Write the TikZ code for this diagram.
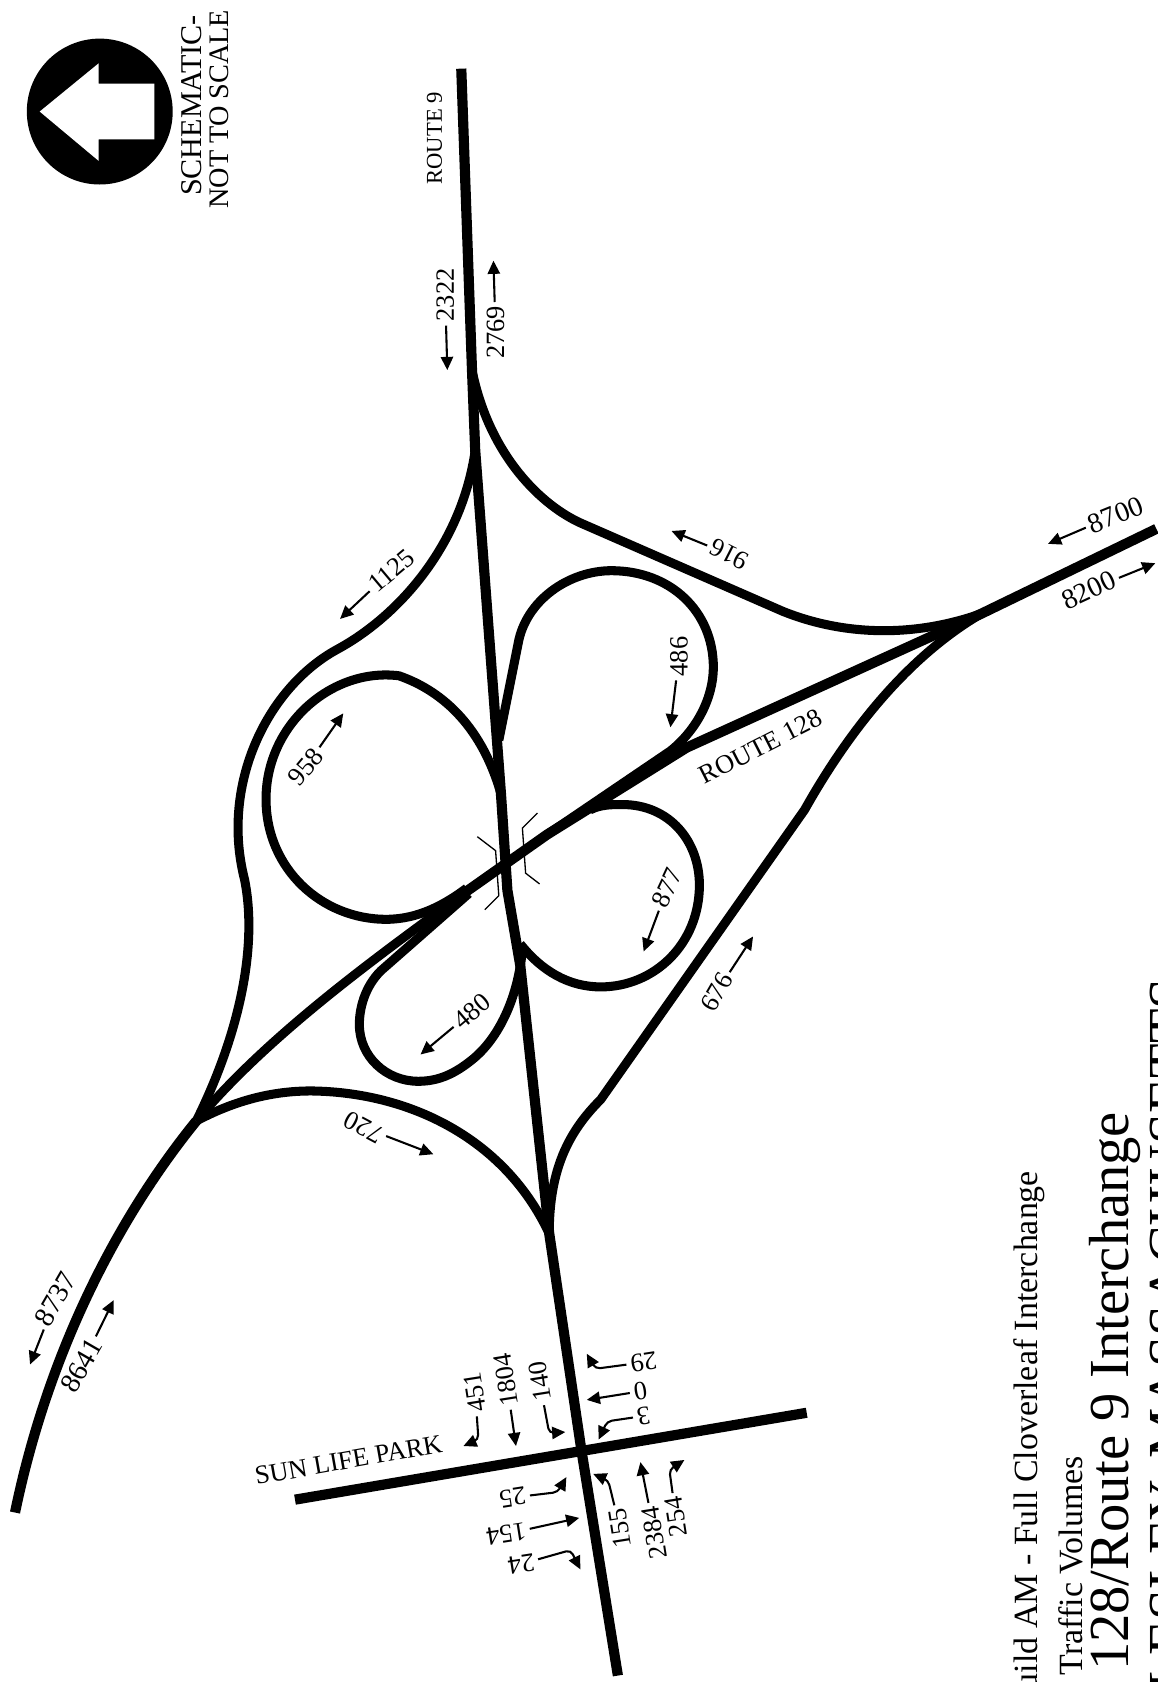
\documentclass[tikz,border=0pt]{standalone}
\usepackage{fontspec}
\setmainfont{Liberation Serif}
\usepackage{tikz}
\usetikzlibrary{arrows.meta}

\begin{document}
\begin{tikzpicture}[
    x=0.02cm, y=-0.02cm,
    road/.style={line width=5.4pt},
    ramp/.style={line width=4.8pt, line join=round},
    bridge/.style={line width=0.7pt},
    lbl/.style={inner sep=1pt, font=\fontsize{14}{14}\selectfont},
    biglbl/.style={inner sep=1pt, font=\fontsize{15}{15}\selectfont},
    arr/.style={-{Triangle[length=7pt, width=6.5pt]}, line width=1.1pt, rounded corners=2.5pt, shorten <=1pt}
]
\useasboundingbox (0,0) rectangle (1079,1568);

% Compass
\fill (93,104) circle (68);
\fill[white] (37,104) -- (92,59) -- (92,78) -- (144,78) -- (144,130) -- (92,130) -- (92,150) -- cycle;
\node[rotate=90, anchor=base west, inner sep=0pt, font=\fontsize{16}{16}\selectfont] (schem) at (188,183) {SCHEMATIC-};
\node[rotate=90, anchor=base west, inner sep=0pt, font=\fontsize{15}{15}\selectfont] (noscale) at (213,195) {NOT TO SCALE};

% Titles
\node[rotate=90, anchor=base west, inner sep=0pt, font=\fontsize{18}{18}\selectfont] (tbuild) at (967,1597) {Build AM - Full Cloverleaf Interchange};
\node[rotate=90, anchor=base west, inner sep=0pt, font=\fontsize{18}{18}\selectfont] (ttraffic) at (1009,1562) {Traffic Volumes};
\node[rotate=90, anchor=base west, inner sep=0pt, font=\fontsize{30}{30}\selectfont] (troute) at (1052,1558) {128/Route 9 Interchange};
\node[rotate=90, anchor=base west, inner sep=0pt, font=\fontsize{30}{30}\selectfont] (tplace) at (1107,1690) {WELLESLEY, MASSACHUSETTS};

% Main roads
\draw[road] (430,64) -- (440,345) -- (443,420) -- (467,740) -- (473,830) -- (485,900) -- (512,1150) -- (542,1352) -- (576,1562);
\draw[road] (1078,493) -- (915,572) -- (640,697) -- (510,778) -- (432,833);
\draw[road] (275,1398) -- (752,1317);
\draw[road] (183,1045) .. controls (110,1135) and (45,1260) .. (14,1410);

% Ramps
\draw[ramp] (432,833) .. controls (350,893) and (250,965) .. (183,1045);
\draw[ramp] (443,420) .. controls (430,510) and (370,575) .. (315,605) .. controls (250,640) and (205,730) .. (228,820) .. controls (240,880) and (225,960) .. (183,1045);
\draw[ramp] (440,345) .. controls (455,420) and (500,468) .. (540,487) -- (730,570) .. controls (785,592) and (850,595) .. (915,572);
\draw[ramp] (915,572) .. controls (850,610) and (795,675) .. (750,755) -- (560,1025) .. controls (530,1055) and (512,1090) .. (512,1150);
\draw[ramp] (512,1150) .. controls (470,1060) and (380,1018) .. (290,1017) .. controls (250,1017) and (215,1028) .. (183,1045);

% Loops
\draw[ramp] (467,740) .. controls (450,680) and (415,645) .. (372,630) .. controls (310,622) and (248,675) .. (248,745) .. controls (248,810) and (300,857) .. (360,857) .. controls (390,857) and (415,843) .. (435,828);
\draw[ramp] (465,690) -- (483,600) .. controls (490,560) and (530,532) .. (570,532) .. controls (625,532) and (665,570) .. (665,622) .. controls (665,650) and (650,680) .. (625,700) -- (510,778);
\draw[ramp] (550,755) .. controls (560,750) and (570,750) .. (580,750) .. controls (625,750) and (652,785) .. (652,825) .. controls (652,880) and (610,920) .. (560,920) .. controls (530,920) and (505,905) .. (485,880);
\draw[ramp] (437,833) -- (355,905) .. controls (340,920) and (335,940) .. (335,955) .. controls (335,985) and (360,1008) .. (390,1008) .. controls (410,1008) and (425,1000) .. (440,988) .. controls (465,968) and (483,930) .. (487,885);

% Bridge
\draw[bridge] (445,780) -- (462,793) -- (465,835) -- (452,848);
\draw[bridge] (501,758) -- (487,772) -- (490,814) -- (503,824);

% Road names
\node[lbl, rotate=90, font=\fontsize{12}{12}\selectfont] (nroute9) at (405,129) {ROUTE 9};
\node[lbl, rotate=27] (nroute128) at (709,696) {ROUTE 128};
\node[lbl, rotate=10] (nsunlife) at (325,1361) {SUN LIFE PARK};

% Volumes
\node[lbl, rotate=90] (l2322) at (415,275) {2322};
\draw[arr] (l2322) -- (417,345);
\node[lbl, rotate=90] (l2769) at (462,310) {2769};
\draw[arr] (l2769) -- (460,243);
\node[lbl, rotate=40] (l1125) at (365,532) {1125};
\draw[arr] (l1125) -- (317,577);
\node[lbl, rotate=153] (l916) at (680,517) {916};
\draw[arr] (l916) -- (626,495);
\node[biglbl, rotate=22] (l8700) at (1040,480) {8700};
\draw[arr] (l8700) -- (977,507);
\node[biglbl, rotate=25] (l8200) at (1015,550) {8200};
\draw[arr] (l8200) -- (1077,525);
\node[lbl, rotate=90] (l486) at (633,612) {486};
\draw[arr] (l486) -- (625,678);
\node[lbl, rotate=50] (l958) at (285,715) {958};
\draw[arr] (l958) -- (320,665);
\node[lbl, rotate=65] (l877) at (622,828) {877};
\draw[arr] (l877) -- (600,887);
\node[lbl, rotate=40] (l480) at (440,943) {480};
\draw[arr] (l480) -- (392,983);
\node[lbl, rotate=60] (l676) at (668,925) {676};
\draw[arr] (l676) -- (702,873);
\node[lbl, rotate=152] (l720) at (339,1051) {720};
\draw[arr] (l720) -- (404,1076);
\node[biglbl, rotate=60] (l8737) at (52,1211) {8737};
\draw[arr] (l8737) -- (28,1272);
\node[biglbl, rotate=60] (l8641) at (76,1273) {8641};
\draw[arr] (l8641) -- (106,1212);

% Intersection
\node[lbl, rotate=99] (l451) at (443,1298) {451};
\draw[arr] (l451) -- (446,1342) -- (432,1348);
\node[lbl, rotate=99] (l1804) at (472,1286) {1804};
\draw[arr] (l1804) -- (481,1348);
\node[lbl, rotate=99] (l140) at (503,1288) {140};
\draw[arr] (l140) -- (512,1336) -- (527,1335);
\node[lbl, rotate=189] (l29) at (600,1270) {29};
\draw[arr] (l29) -- (555,1276) -- (547,1262);
\node[lbl, rotate=189] (l0) at (597,1297) {0};
\draw[arr] (l0) -- (547,1305);
\node[lbl, rotate=189] (l3) at (600,1320) {3};
\draw[arr] (l3) -- (566,1325) -- (558,1342);
\node[lbl, rotate=99] (l155) at (578,1425) {155};
\draw[arr] (l155) -- (567,1380) -- (553,1374);
\node[lbl, rotate=99] (l2384) at (610,1429) {2384};
\draw[arr] (l2384) -- (597,1363);
\node[lbl, rotate=99] (l254) at (630,1414) {254};
\draw[arr] (l254) -- (624,1370) -- (638,1361);
\node[lbl, rotate=189] (l25) at (478,1396) {25};
\draw[arr] (l25) -- (520,1391) -- (528,1377);
\node[lbl, rotate=189] (l154) at (472,1430) {154};
\draw[arr] (l154) -- (540,1415);
\node[lbl, rotate=189] (l24) at (486,1458) {24};
\draw[arr] (l24) -- (532,1445) -- (541,1463);

\end{tikzpicture}
\end{document}
